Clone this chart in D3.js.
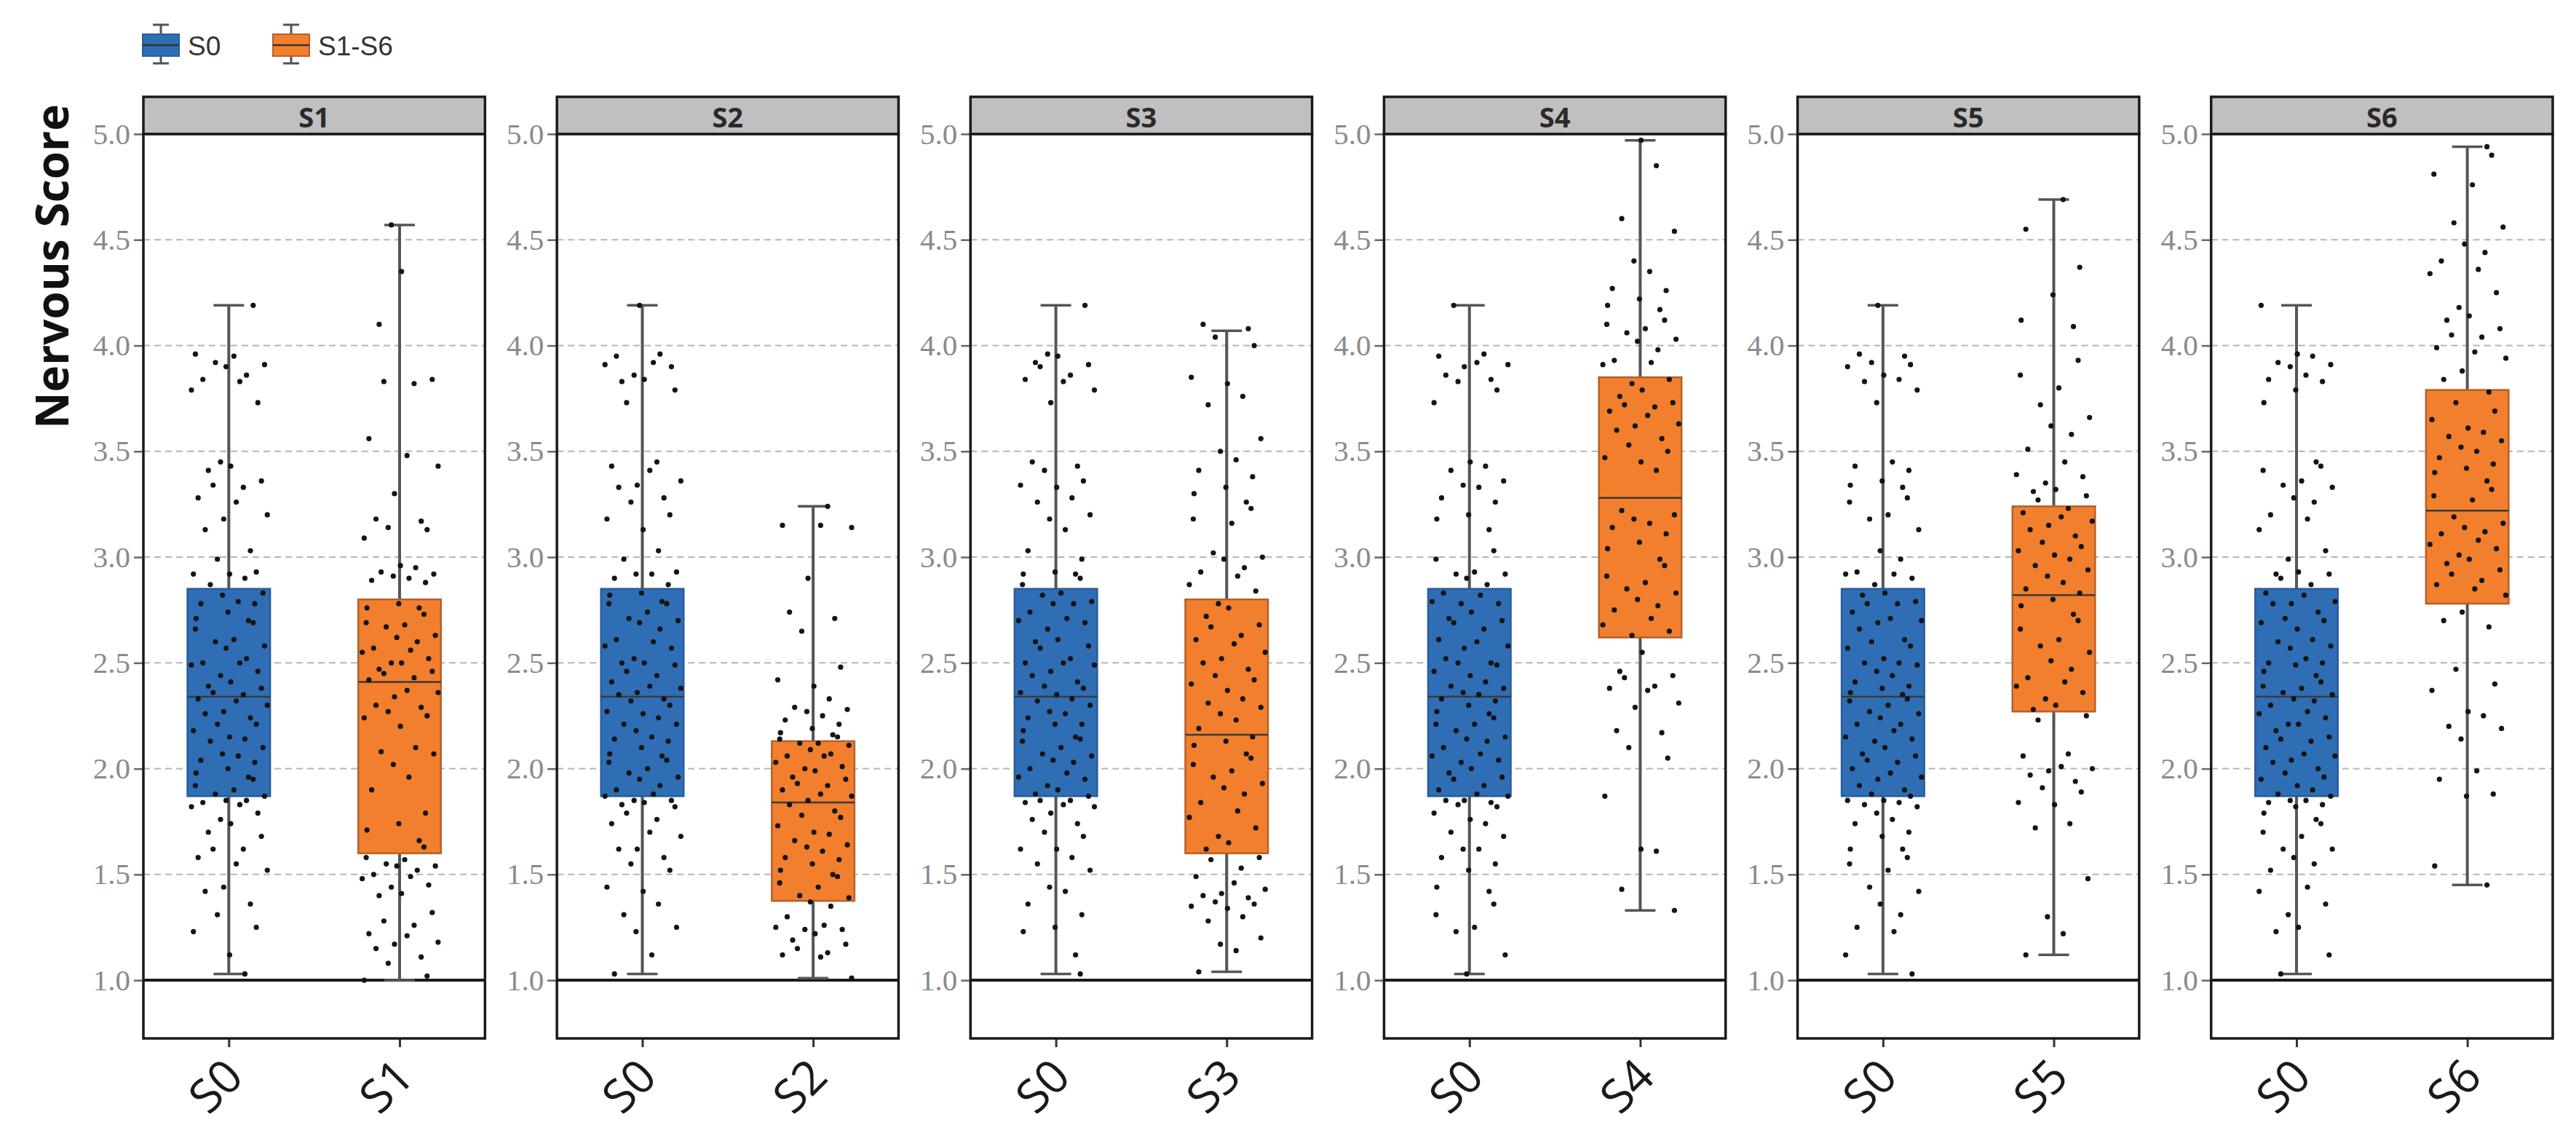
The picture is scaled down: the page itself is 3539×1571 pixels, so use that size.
<!DOCTYPE html>
<html lang="en">
<head>
<meta charset="UTF-8">
<title>Nervous Score</title>
<script src="https://cdnjs.cloudflare.com/ajax/libs/d3/7.8.5/d3.min.js"></script>
<style>
  body { margin: 0; background: #fff; }
</style>
</head>
<body>
<div id="container"></div>
<script>
// ---------------- data ----------------
const panels = ["S1", "S2", "S3", "S4", "S5", "S6"];
const legendLabels = ["S0", "S1-S6"];
const yTicks = [1.0, 1.5, 2.0, 2.5, 3.0, 3.5, 4.0, 4.5, 5.0];

// [lower whisker, Q1, median, Q3, upper whisker]
const s0Box = [1.03, 1.87, 2.34, 2.85, 4.19];
const groupBox = [
  [1.00, 1.60, 2.41, 2.80, 4.57],
  [1.01, 1.375, 1.84, 2.13, 3.24],
  [1.04, 1.60, 2.16, 2.80, 4.07],
  [1.33, 2.62, 3.28, 3.85, 4.97],
  [1.12, 2.27, 2.82, 3.24, 4.69],
  [1.45, 2.78, 3.22, 3.79, 4.94]
];

const s0Points = [4.19, 3.96, 3.95, 3.92, 3.91, 3.90, 3.86, 3.84, 3.83, 3.79, 3.73, 3.45, 3.43, 3.41, 3.36, 3.34,
  3.33, 3.28, 3.26, 3.20, 3.18, 3.13, 3.03, 2.99, 2.93, 2.92, 2.92, 2.90, 2.87,
  2.83, 2.82, 2.79, 2.78, 2.78, 2.74, 2.71, 2.70, 2.69, 2.66, 2.61, 2.60, 2.58, 2.57, 2.52, 2.50, 2.50, 2.49,
  2.46, 2.44, 2.41, 2.39, 2.38, 2.36, 2.35,
  2.33, 2.32, 2.30, 2.27, 2.26, 2.24, 2.21, 2.21, 2.18, 2.15, 2.14, 2.13, 2.10, 2.07, 2.06, 2.04, 2.03, 2.00,
  1.98, 1.96, 1.95, 1.92, 1.90, 1.88, 1.87,
  1.85, 1.85, 1.84, 1.83, 1.82, 1.79, 1.76, 1.74, 1.70, 1.68, 1.62, 1.62, 1.58, 1.55, 1.52, 1.44, 1.42, 1.36,
  1.31, 1.25, 1.23, 1.12, 1.03];

const s1Points = [4.57, 4.35, 4.10, 3.84, 3.83, 3.82, 3.56, 3.48, 3.43, 3.30, 3.18, 3.17, 3.14, 3.13, 3.09, 2.96,
  2.95, 2.93, 2.92, 2.91, 2.90, 2.89, 2.88,
  2.78, 2.76, 2.76, 2.73, 2.69, 2.68, 2.67, 2.63, 2.62, 2.60, 2.57, 2.56, 2.55, 2.52, 2.50, 2.50, 2.47, 2.46,
  2.45, 2.43, 2.42,
  2.37, 2.36, 2.34, 2.30, 2.29, 2.27, 2.25, 2.24, 2.20, 2.10, 2.08, 2.07, 2.02, 1.96, 1.90, 1.79, 1.74, 1.71,
  1.66, 1.63,
  1.58, 1.57, 1.55, 1.54, 1.54, 1.52, 1.50, 1.49, 1.48, 1.45, 1.44, 1.41, 1.40, 1.32, 1.28, 1.26, 1.22, 1.21,
  1.18, 1.17, 1.15, 1.11, 1.08, 1.02, 1.00];

const s2Points = [3.24, 3.15, 3.15, 3.14, 2.90, 2.74, 2.71, 2.65, 2.48, 2.42, 2.39, 2.33, 2.29, 2.28, 2.27, 2.25,
  2.23, 2.21, 2.19, 2.17, 2.16, 2.15, 2.14,
  2.12, 2.12, 2.11, 2.09, 2.07, 2.06, 2.06, 2.03, 2.01, 2.00, 1.99, 1.96, 1.95, 1.93, 1.92, 1.90, 1.88, 1.87,
  1.85,
  1.83, 1.80, 1.78, 1.77, 1.73, 1.70, 1.69, 1.66, 1.64, 1.63, 1.61, 1.58, 1.57, 1.55, 1.52, 1.50, 1.49, 1.46,
  1.44, 1.40, 1.39,
  1.37, 1.35, 1.30, 1.26, 1.25, 1.24, 1.24, 1.22, 1.19, 1.17, 1.15, 1.13, 1.12, 1.11, 1.01];

const s3Points = [4.10, 4.08, 4.04, 4.00, 3.85, 3.82, 3.76, 3.72, 3.56, 3.50, 3.46, 3.41, 3.38, 3.33, 3.30, 3.26,
  3.23, 3.18, 3.16, 3.02, 3.00, 2.99, 2.95, 2.93, 2.91, 2.87, 2.84,
  2.78, 2.76, 2.72, 2.68, 2.67, 2.63, 2.61, 2.59, 2.55, 2.52, 2.50, 2.47, 2.44, 2.42, 2.40, 2.37, 2.33, 2.31,
  2.29, 2.26, 2.23, 2.19,
  2.15, 2.13, 2.11, 2.07, 2.05, 2.02, 1.99, 1.96, 1.93, 1.91, 1.88, 1.84, 1.80, 1.77, 1.72, 1.68, 1.65, 1.62,
  1.58, 1.57, 1.53, 1.49, 1.46, 1.43, 1.41, 1.40, 1.39, 1.37, 1.36, 1.35, 1.34, 1.30, 1.28, 1.20, 1.17, 1.14,
  1.04];

const s4Points = [4.97, 4.85, 4.60, 4.54, 4.40, 4.35, 4.27, 4.26, 4.22, 4.19, 4.17, 4.12, 4.10, 4.08, 4.06, 4.03,
  4.02, 3.98, 3.93, 3.92, 3.91,
  3.84, 3.82, 3.79, 3.76, 3.73, 3.72, 3.71, 3.69, 3.67, 3.63, 3.62, 3.60, 3.56, 3.53, 3.50, 3.47, 3.45, 3.41,
  3.22, 3.20, 3.18, 3.16, 3.14, 3.11, 3.07, 3.04, 2.99, 2.96, 2.91, 2.88, 2.85, 2.83, 2.80, 2.77, 2.75, 2.71,
  2.68, 2.65, 2.63,
  2.55, 2.46, 2.44, 2.43, 2.39, 2.38, 2.37, 2.31, 2.29, 2.18, 2.17, 2.10, 2.05, 1.87, 1.62, 1.61, 1.43, 1.33];

const s5Points = [4.69, 4.55, 4.37, 4.24, 4.12, 4.09, 3.93, 3.86, 3.80, 3.72, 3.66, 3.62, 3.58, 3.51, 3.45, 3.39,
  3.38, 3.35, 3.32, 3.31, 3.29, 3.27,
  3.23, 3.21, 3.19, 3.17, 3.15, 3.13, 3.10, 3.07, 3.05, 3.03, 3.01, 2.99, 2.96, 2.94, 2.91, 2.88, 2.85, 2.83,
  2.80, 2.77, 2.73, 2.70, 2.66, 2.61, 2.58, 2.55, 2.51, 2.47, 2.43, 2.41, 2.39, 2.36, 2.33, 2.30, 2.28,
  2.25, 2.23, 2.07, 2.06, 2.01, 2.00, 1.99, 1.97, 1.94, 1.91, 1.89, 1.84, 1.83, 1.74, 1.72, 1.48, 1.30, 1.22,
  1.12];

const s6Points = [4.94, 4.90, 4.81, 4.76, 4.58, 4.56, 4.48, 4.44, 4.40, 4.36, 4.34, 4.25, 4.18, 4.14, 4.12, 4.08,
  4.05, 4.04, 3.99, 3.97, 3.94, 3.88, 3.84,
  3.78, 3.73, 3.69, 3.65, 3.61, 3.59, 3.57, 3.55, 3.52, 3.50, 3.47, 3.44, 3.42, 3.40, 3.36, 3.32, 3.29, 3.27,
  3.19, 3.16, 3.14, 3.12, 3.11, 3.08, 3.06, 3.04, 3.01, 2.99, 2.97, 2.94, 2.92, 2.89, 2.87, 2.85, 2.82,
  2.74, 2.70, 2.67, 2.47, 2.40, 2.37, 2.27, 2.25, 2.20, 2.19, 2.14, 1.99, 1.95, 1.88, 1.87, 1.54, 1.45];

const groupPoints = [s1Points, s2Points, s3Points, s4Points, s5Points, s6Points];

// horizontal jitter, as a fraction of the jitter half-width
const jitter = [0.62, -0.85, 0.13, -0.34, 0.91, -0.07, 0.45, -0.66, 0.28, -0.95, 0.74, -0.21, 0.05, -0.52,
  0.83, -0.40, 0.37, -0.78, 0.19, 0.98, -0.13, -0.60, 0.55, -0.29, 0.70, -0.90, 0.02, 0.41, -0.47, 0.87,
  -0.16, 0.24, -0.71, 0.66, -0.02, -0.83, 0.50];

// ---------------- layout ----------------
const width = 3539, height = 1571;
const stripTop = 133, plotTop = 184, plotBottom = 1426;
const colors = ["#2f6eb5", "#f27f2d"];
const borders = ["#285d9a", "#b5602a"];

const x = d3.scaleBand().domain(panels).range([197, 3507]).paddingInner(0.174);
const y = d3.scaleLinear().domain([0.725, 5.0]).range([plotBottom, plotTop]);
const bw = x.bandwidth();
const boxW = bw * 0.242;
const capW = 42;
const jitterW = 54;

const svg = d3.select("#container").append("svg")
  .attr("width", width)
  .attr("height", height)
  .style("font-family", "'Liberation Sans', Arial, sans-serif");

// y title
svg.append("text")
  .attr("transform", `translate(70, 366) rotate(-90)`)
  .attr("text-anchor", "middle")
  .attr("dominant-baseline", "central")
  .style("font-family", "'Open Sans', 'Noto Sans', sans-serif")
  .style("font-weight", 700)
  .style("font-size", "62px")
  .attr("fill", "#111")
  .text("Nervous Score");

// legend
const legendX = [196, 375];
const leg = svg.append("g").selectAll("g").data(legendLabels).join("g")
  .attr("transform", (d, i) => `translate(${legendX[i]},0)`);
leg.append("line").attr("x1", 25).attr("x2", 25).attr("y1", 33).attr("y2", 88)
  .attr("stroke", "#4a5560").attr("stroke-width", 3);
leg.append("line").attr("x1", 14).attr("x2", 36).attr("y1", 34).attr("y2", 34)
  .attr("stroke", "#4a5560").attr("stroke-width", 3);
leg.append("line").attr("x1", 14).attr("x2", 36).attr("y1", 87).attr("y2", 87)
  .attr("stroke", "#4a5560").attr("stroke-width", 3);
leg.append("rect").attr("x", 0).attr("y", 47).attr("width", 50).attr("height", 30)
  .attr("fill", (d, i) => colors[i]).attr("stroke", (d, i) => borders[i]).attr("stroke-width", 2);
leg.append("line").attr("x1", 0).attr("x2", 50).attr("y1", 62).attr("y2", 62)
  .attr("stroke", "#333").attr("stroke-width", 2.5);
leg.append("text").attr("x", 62).attr("y", 63)
  .attr("dominant-baseline", "central")
  .style("font-size", "37px")
  .attr("fill", "#333")
  .text(d => d);

// panels
panels.forEach((p, i) => {
  const g = svg.append("g").attr("transform", `translate(${x(p)},0)`);
  const xi = d3.scalePoint().domain(["S0", p]).range([0, bw]).padding(0.5);

  // dashed gridlines
  g.append("g").selectAll("line").data(yTicks.filter(t => t > 1 && t < 5)).join("line")
    .attr("x1", 0).attr("x2", bw)
    .attr("y1", d => y(d)).attr("y2", d => y(d))
    .attr("stroke", "#b5b5b5").attr("stroke-width", 2).attr("stroke-dasharray", "9,6");

  // solid line at 1.0
  g.append("line").attr("x1", 0).attr("x2", bw).attr("y1", y(1)).attr("y2", y(1))
    .attr("stroke", "#1a1a1a").attr("stroke-width", 4);

  // y axis
  const yAxis = g.append("g").call(d3.axisLeft(y).tickValues(yTicks).tickFormat(d3.format(".1f"))
    .tickSize(13).tickPadding(5));
  yAxis.select(".domain").remove();
  yAxis.selectAll(".tick line").attr("stroke", "#666").attr("stroke-width", 2.5);
  yAxis.selectAll(".tick text")
    .style("font-family", "'Liberation Serif', 'DejaVu Serif', serif")
    .style("font-size", "41px")
    .attr("fill", "#8a8a8a");

  // x axis ticks + rotated labels
  const xAxis = g.append("g").attr("transform", `translate(0,${plotBottom})`)
    .call(d3.axisBottom(xi).tickSize(12).tickFormat(""));
  xAxis.select(".domain").remove();
  xAxis.selectAll(".tick line").attr("stroke", "#333").attr("stroke-width", 3);
  g.append("g").selectAll("text").data(xi.domain()).join("text")
    .attr("transform", d => `translate(${xi(d) + 23},${plotBottom + 56}) rotate(-45)`)
    .attr("text-anchor", "end")
    .style("font-family", "'Open Sans', 'Noto Sans', sans-serif")
    .style("font-size", "64px")
    .attr("fill", "#1a1a1a")
    .text(d => d);

  const groups = [
    { key: "S0", s: s0Box, pts: s0Points, k: 0 },
    { key: p, s: groupBox[i], pts: groupPoints[i], k: 1 }
  ];

  groups.forEach(grp => {
    const cx = xi(grp.key);
    const [lo, q1, med, q3, hi] = grp.s;
    // whiskers (error bar with caps)
    g.append("line").attr("x1", cx).attr("x2", cx).attr("y1", y(lo)).attr("y2", y(hi))
      .attr("stroke", "#555").attr("stroke-width", 4);
    [lo, hi].forEach(v => {
      g.append("line").attr("x1", cx - capW / 2).attr("x2", cx + capW / 2)
        .attr("y1", y(v)).attr("y2", y(v))
        .attr("stroke", "#555").attr("stroke-width", 3.5);
    });
    // box
    g.append("rect")
      .attr("x", cx - boxW / 2).attr("width", boxW)
      .attr("y", y(q3)).attr("height", y(q1) - y(q3))
      .attr("fill", colors[grp.k]).attr("stroke", borders[grp.k]).attr("stroke-width", 2.5);
    g.append("line").attr("x1", cx - boxW / 2).attr("x2", cx + boxW / 2)
      .attr("y1", y(med)).attr("y2", y(med))
      .attr("stroke", "#3a3a3a").attr("stroke-width", 2.5);
    // jittered points
    const shift = i * 5 + grp.k * 11;
    g.append("g").selectAll("circle").data(grp.pts).join("circle")
      .attr("cx", (d, j) => cx + jitter[(j + shift) % jitter.length] * jitterW)
      .attr("cy", d => y(d))
      .attr("r", 3.6)
      .attr("fill", "#141414");
  });

  // panel frame
  g.append("rect").attr("x", 0).attr("y", plotTop).attr("width", bw).attr("height", plotBottom - plotTop)
    .attr("fill", "none").attr("stroke", "#1a1a1a").attr("stroke-width", 3.5);

  // strip
  g.append("rect").attr("x", 0).attr("y", stripTop).attr("width", bw).attr("height", plotTop - stripTop)
    .attr("fill", "#c0c0c0").attr("stroke", "#1a1a1a").attr("stroke-width", 3.5);
  g.append("text").attr("x", bw / 2).attr("y", (stripTop + plotTop) / 2 + 1)
    .attr("text-anchor", "middle").attr("dominant-baseline", "central")
    .style("font-family", "'Open Sans', 'Noto Sans', sans-serif")
    .style("font-weight", 700).style("font-size", "38px").attr("fill", "#2a2a2a")
    .text(p);
});
</script>
</body>
</html>
